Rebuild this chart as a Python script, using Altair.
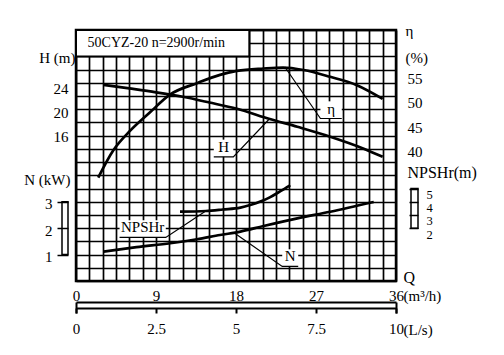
import altair as alt
import pandas as pd

# ---------------- data ----------------
title_text = "50CYZ-20 n=2900r/min"

h_q = [3.1, 6.0, 9.0, 12.0, 15.0, 18.1, 21.8, 24.9, 28.6, 32.3, 34.5]
h_m = [24.7, 24.1, 23.45, 22.7, 21.75, 20.7, 19.0, 17.7, 16.05, 14.1, 12.7]

eff_q = [2.5, 4.2, 6.1, 8.3, 10.6, 13.6, 16.2, 18.1, 21.1, 23.3, 25.6, 28.6, 31.6, 34.5]
eff_p = [34.7, 40.3, 44.3, 48.0, 51.7, 54.0, 55.7, 56.5, 57.0, 57.2, 56.7, 55.3, 53.6, 50.8]

n_q = [3.1, 6.8, 10.6, 13.6, 16.2, 18.5, 21.1, 24.9, 28.6, 33.5]
n_kw = [1.11, 1.28, 1.43, 1.58, 1.74, 1.87, 2.08, 2.37, 2.62, 2.99]

npsh_q = [11.7, 14.6, 16.5, 18.5, 19.6, 21.8, 23.0, 24.1]
npsh_m = [3.25, 3.30, 3.41, 3.55, 3.75, 4.33, 4.8, 5.25]

# tick labels
q_labels = [0, 9, 18, 27, 36]
ls_labels = [0, 2.5, 5, 7.5, 10]
h_ticks = [16, 20, 24]
eff_ticks = [40, 45, 50, 55]
n_ticks = [1, 2, 3]
npsh_ticks = [2, 3, 4, 5]

# grid: 24 columns of 1.5 m3/h, 19 rows
q_grid = [i * 1.5 for i in range(25)]
row_grid = list(range(20))

# callouts (curve point -> elbow -> end of underline), in (Q, grid row)
ann_names = ["η", "H", "NPSHr", "N"]
ann_q = [[23.5, 27.5, 29.9], [21.8, 17.7, 15.5], [14.6, 10.1, 4.9], [17.9, 23.2, 25.0]]
ann_row = [[16.2, 12.3, 12.3], [12.3, 9.4, 9.4], [5.3, 3.3, 3.3], [3.6, 1.1, 1.1]]
LABEL_BOX_ROWS = 1.3

# title box in (Q, grid row)
box_q = [0.0, 19.5]
box_row = [17.0, 19.0]

# ---------------- scales ----------------
FONT = "Liberation Serif"
xs = alt.Scale(domain=[0, 36], nice=False, zero=False)
rows_scale = alt.Scale(domain=[0, 19], nice=False, zero=False)
h_scale = alt.Scale(domain=[-8, 33.833], nice=False, zero=False)
eff_scale = alt.Scale(domain=[13.57, 64.87], nice=False, zero=False)
n_scale = alt.Scale(domain=[0, 9.5], nice=False, zero=False)
npsh_scale = alt.Scale(domain=[-2, 17], nice=False, zero=False)

CURVE = dict(color="black", strokeWidth=2.7, interpolate="monotone")
GRID = dict(grid=True, gridColor="black", gridWidth=1.7, gridOpacity=1)

# ---------------- grid + title box ----------------
box_df = pd.DataFrame({"q": [box_q[0]], "q2": [box_q[1]], "r": [box_row[0]], "r2": [box_row[1]]})
box = alt.Chart(box_df).mark_rect(fill="white", stroke="black", strokeWidth=2).encode(
    x=alt.X("q:Q", scale=xs, axis=alt.Axis(
        values=q_grid, ticks=False, domain=False, labelOverlap=False, labelFlush=False,
        labelExpr="datum.value % 9 == 0 ? datum.label : ''",
        labelPadding=7, labelFontSize=15,
        title="(m³/h)", titleX=327, titleY=14, titleAlign="left",
        titleBaseline="middle", titleAngle=0, titleFontSize=15, **GRID)),
    x2="q2:Q",
    y=alt.Y("r:Q", scale=rows_scale, axis=alt.Axis(
        orient="right", values=row_grid, labels=False, ticks=False, domain=False,
        title="Q", titleAngle=0, titleX=7, titleY=247, titleAlign="left",
        titleBaseline="middle", titleFontSize=16, **GRID)),
    y2="r2:Q",
)

# ---------------- bottom double scale bar ----------------
bar_df = pd.DataFrame({"q": [q_labels[0], q_labels[-1]]})
bar1 = alt.Chart(bar_df).mark_point(opacity=0).encode(
    x=alt.X("q:Q", scale=xs, axis=alt.Axis(
        orient="bottom", offset=21, values=[q_labels[0], q_labels[-1]],
        domain=True, domainColor="black", domainWidth=2,
        ticks=True, tickSize=11, tickWidth=2, tickColor="black",
        labels=False, grid=False, title=""))
)

ls_df = pd.DataFrame({"ls": ls_labels})
bar2 = alt.Chart(ls_df).mark_point(opacity=0).encode(
    x=alt.X("ls:Q", scale=alt.Scale(domain=[0, 10], nice=False, zero=False), axis=alt.Axis(
        orient="bottom", offset=27, values=ls_labels, format=".1~f",
        domain=True, domainColor="black", domainWidth=2,
        ticks=True, tickSize=5, tickWidth=2, tickColor="black",
        labelPadding=8, labelFontSize=15, labelFlush=False, labelOverlap=False, grid=False,
        title="(L/s)", titleX=327, titleY=21, titleAlign="left", titleBaseline="middle",
        titleAngle=0, titleFontSize=15))
)

# ---------------- H curve ----------------
h_df = pd.DataFrame({"q": h_q, "v": h_m})
h_layer = alt.Chart(h_df).mark_line(**CURVE).encode(
    x=alt.X("q:Q", scale=xs, axis=None),
    y=alt.Y("v:Q", scale=h_scale, axis=alt.Axis(
        orient="left", values=h_ticks, ticks=False, domain=False, grid=False,
        labelPadding=8, labelFontSize=15, labelOverlap=False,
        title="H (m)", titleAngle=0, titleAlign="right", titleBaseline="middle",
        titleX=-1, titleY=27, titleFontSize=15)),
)

# ---------------- efficiency curve ----------------
eff_df = pd.DataFrame({"q": eff_q, "v": eff_p})
eff_layer = alt.Chart(eff_df).mark_line(**CURVE).encode(
    x=alt.X("q:Q", scale=xs, axis=None),
    y=alt.Y("v:Q", scale=eff_scale, axis=alt.Axis(
        orient="right", values=eff_ticks, ticks=False, domain=False, grid=False,
        labelPadding=11, labelFontSize=15, labelOverlap=False,
        title=["η", "(%)"], titleAngle=0, titleAlign="left", titleBaseline="top",
        titleLineHeight=27, titleX=9, titleY=-7, titleFontSize=15)),
)

# ---------------- shaft power curve + ladder ----------------
n_axis = alt.Axis(
    orient="left", offset=8, values=n_ticks, ticks=True, tickSize=11, tickWidth=1.5,
    tickColor="black", domain=False, grid=False, labelPadding=5, labelOffset=2,
    labelFontSize=15, labelOverlap=False, title="N (kW)", titleAngle=0, titleAlign="right",
    titleBaseline="middle", titleX=2, titleY=149, titleFontSize=15)
n_df = pd.DataFrame({"q": n_q, "v": n_kw})
n_curve = alt.Chart(n_df).mark_line(**CURVE).encode(
    x=alt.X("q:Q", scale=xs, axis=None),
    y=alt.Y("v:Q", scale=n_scale, axis=n_axis),
)
n_lad_df = pd.DataFrame({"lo": [min(n_ticks)], "hi": [max(n_ticks)]})
n_ladder = alt.Chart(n_lad_df).mark_rect(fillOpacity=0, stroke="black", strokeWidth=1.5).encode(
    x=alt.value(-14), x2=alt.value(-8),
    y=alt.Y("lo:Q", scale=n_scale, axis=n_axis), y2="hi:Q",
)
n_layer = alt.layer(n_curve, n_ladder)

# ---------------- NPSHr curve + ladder ----------------
p_axis = alt.Axis(
    orient="right", offset=13, values=npsh_ticks, ticks=True, tickSize=9, tickWidth=1.5,
    tickColor="black", domain=False, grid=False, labelPadding=8, labelOffset=6,
    labelFontSize=12.5, labelOverlap=False, title="NPSHr(m)", titleAngle=0, titleAlign="left",
    titleBaseline="middle", titleX=-2, titleY=142, titleFontSize=16)
p_df = pd.DataFrame({"q": npsh_q, "v": npsh_m})
p_curve = alt.Chart(p_df).mark_line(**CURVE).encode(
    x=alt.X("q:Q", scale=xs, axis=None),
    y=alt.Y("v:Q", scale=npsh_scale, axis=p_axis),
)
p_lad_df = pd.DataFrame({"lo": [min(npsh_ticks)], "hi": [max(npsh_ticks)]})
p_ladder = alt.Chart(p_lad_df).mark_rect(fillOpacity=0, stroke="black", strokeWidth=1.5).encode(
    x=alt.value(335), x2=alt.value(342),
    y=alt.Y("lo:Q", scale=npsh_scale, axis=p_axis), y2="hi:Q",
)
p_layer = alt.layer(p_curve, p_ladder)

# ---------------- callouts + title ----------------
lead_rows = []
lab_rows = []
for name, qs, rs in zip(ann_names, ann_q, ann_row):
    for k, (qq, rr) in enumerate(zip(qs, rs)):
        lead_rows.append({"name": name, "k": k, "q": qq, "r": rr})
    lab_rows.append({"name": name, "q": (qs[1] + qs[2]) / 2, "r": rs[2],
                     "q_lo": min(qs[1], qs[2]), "q_hi": max(qs[1], qs[2]),
                     "r_top": rs[2] + LABEL_BOX_ROWS})
lead_df = pd.DataFrame(lead_rows)
lab_df = pd.DataFrame(lab_rows)

lab_bg = alt.Chart(lab_df).mark_rect(fill="white").encode(
    x=alt.X("q_lo:Q", scale=xs, axis=None), x2="q_hi:Q",
    y=alt.Y("r:Q", scale=rows_scale, axis=None), y2="r_top:Q",
)
lead = alt.Chart(lead_df).mark_line(color="black", strokeWidth=1.2).encode(
    x=alt.X("q:Q", scale=xs, axis=None),
    y=alt.Y("r:Q", scale=rows_scale, axis=None),
    detail="name:N", order="k:Q",
)
labs = alt.Chart(lab_df).mark_text(font=FONT, fontSize=15, baseline="alphabetic", dy=-5,
                                  color="black").encode(
    x=alt.X("q:Q", scale=xs, axis=None),
    y=alt.Y("r:Q", scale=rows_scale, axis=None),
    text="name:N",
)
title_df = pd.DataFrame({"t": [title_text], "q": [box_q[0] + 1.3],
                         "r": [(box_row[0] + box_row[1]) / 2]})
title_mark = alt.Chart(title_df).mark_text(font=FONT, fontSize=14, align="left",
                                           baseline="middle", color="black").encode(
    x=alt.X("q:Q", scale=xs, axis=None),
    y=alt.Y("r:Q", scale=rows_scale, axis=None),
    text="t:N",
)
ann_layer = alt.layer(lab_bg, lead, labs, title_mark)

chart = alt.layer(
    box, bar1, bar2, h_layer, eff_layer, n_layer, p_layer, ann_layer
).resolve_scale(
    x="independent", y="independent"
).properties(
    width=320, height=251,
    padding={"left": 68, "top": 22, "right": 100, "bottom": 66},
    autosize=alt.AutoSizeParams(type="none"),
    background="white",
).configure_view(
    stroke="black", strokeWidth=2.5
).configure_axis(
    labelFont=FONT, titleFont=FONT, labelColor="black", titleColor="black",
    titleFontWeight="normal"
)

chart.save("out.html", embed_options={"renderer": "svg", "actions": False})
